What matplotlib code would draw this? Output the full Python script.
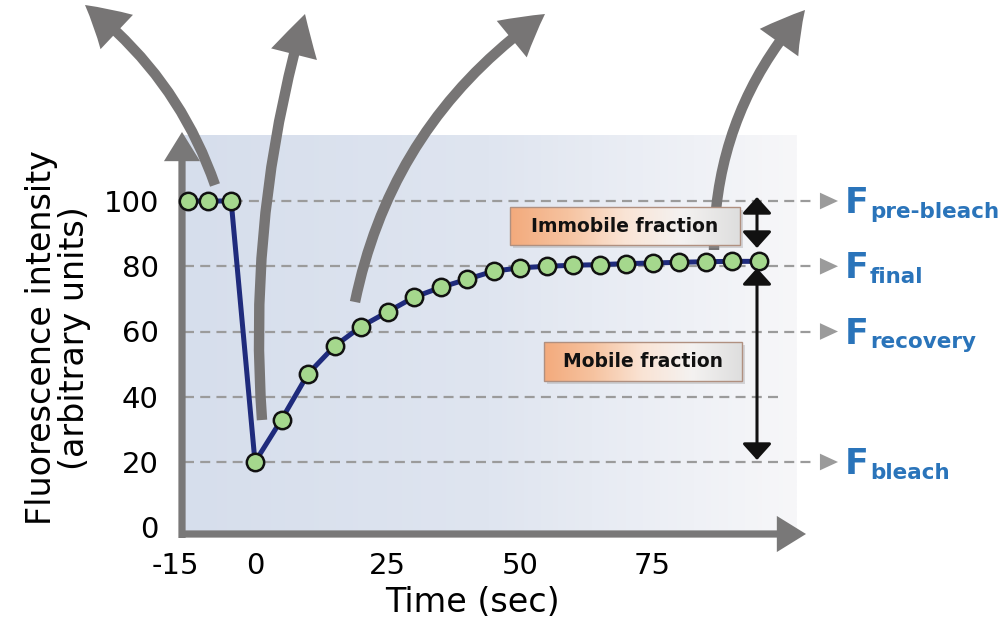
import numpy as np
import matplotlib
matplotlib.use('Agg')
import matplotlib.pyplot as plt
from matplotlib.patches import FancyArrowPatch, Rectangle
from matplotlib.colors import LinearSegmentedColormap

# Pre-bleach measurements (time in sec, intensity)
preTimes = [-12.7, -8.8, -4.5]
preValues = [100, 100, 100]

# Recovery after the bleach
recTimes = [0, 5, 10, 15, 20, 25, 30, 35, 40, 45, 50, 55, 60, 65, 70, 75, 80, 85, 90, 95]
recValues = [20, 33, 47, 55.5, 61.5, 66, 70.5, 73.5, 76, 78.5, 79.5, 80, 80.3,
             80.5, 80.8, 81, 81.2, 81.4, 81.5, 81.5]

xTicks = [-15, 0, 25, 50, 75]
xTickLabels = ['-15', '0', '25', '50', '75']
yTicks = [0, 20, 40, 60, 80, 100]

# Dashed reference levels and the names written at the right
gridLevels = [100, 80, 60, 40, 20]
refLevels = [100, 80, 60, 20]
refNames = ['pre-bleach', 'final', 'recovery', 'bleach']

W, H = 1006, 631
GRAY = '#797878'
BLUE = '#2a74ba'


# Pixel helpers for the plot area (5.3 px per sec, 3.2625 px per unit)
def tx(px):
    return (px - 255) / 5.3


def vy(py):
    return (527.25 - py) / 3.2625


def figPt(px, py):
    return (px / W, 1 - py / H)


fig = plt.figure(figsize=(W / 100, H / 100), dpi=100)
ax = fig.add_axes([175.5 / W, (H - 535) / H, 636 / W, 401 / H])
for s in ax.spines.values():
    s.set_visible(False)
ax.patch.set_visible(False)

# Background gradient behind the data
bgCmap = LinearSegmentedColormap.from_list('bg', ['#d6deec', '#dfe5f0', '#f7f7f9'])
ax.imshow(np.linspace(0, 1, 256)[None, :], cmap=bgCmap, aspect='auto',
          extent=[tx(182), tx(797), vy(535), vy(135)], zorder=0, interpolation='bilinear')

# Dashed lines with small arrowheads
for level in gridLevels:
    xEnd = tx(780) if level == 40 else tx(815)
    ax.plot([tx(184), xEnd], [level, level], color='#9b9b9b', lw=1.6,
            ls=(0, (4.5, 2.8)), zorder=1, clip_on=False)
    if level != 40:
        ax.annotate('', xy=(tx(838), level), xytext=(tx(815), level),
                    arrowprops=dict(arrowstyle='-|>,head_length=1.3,head_width=0.6',
                                    mutation_scale=10, color='#9b9b9b', lw=0,
                                    shrinkA=0, shrinkB=0),
                    annotation_clip=False, zorder=1)

# F labels
for level, name in zip(refLevels, refNames):
    ax.text(tx(845), level - 12 / 3.2625, 'F', color=BLUE, fontsize=25,
            fontweight='bold', ha='left', va='baseline')
    ax.text(tx(870), level - 17 / 3.2625, name, color=BLUE, fontsize=15.5,
            fontweight='bold', ha='left', va='baseline')


# Axis arrows
def straightArrow(p0, p1):
    a = FancyArrowPatch(figPt(*p0), figPt(*p1), transform=fig.transFigure,
                        arrowstyle='simple,head_length=21,head_width=26,tail_width=5.2',
                        mutation_scale=1, color=GRAY, lw=0, shrinkA=0, shrinkB=0,
                        zorder=2, clip_on=False)
    ax.add_artist(a)


straightArrow((182, 538), (182, 132))
straightArrow((179, 534), (806, 534))


# Large curved arrows leaving the plot
def curvedArrow(p0, p1, rad, z=3):
    a = FancyArrowPatch(figPt(*p0), figPt(*p1), transform=fig.transFigure,
                        connectionstyle='arc3,rad=%s' % rad,
                        arrowstyle='simple,head_length=30,head_width=34,tail_width=7.5',
                        mutation_scale=1, color='#777575', lw=0, shrinkA=0, shrinkB=0,
                        zorder=z, clip_on=False)
    ax.add_artist(a)


curvedArrow((215, 185), (85, 5), 0.15)
curvedArrow((262, 420), (305, 14), -0.09)
curvedArrow((355, 302), (545, 14), -0.2)
curvedArrow((714, 250), (805, 10), -0.19)

# Recovery curve and data points
allTimes = preTimes + recTimes
allValues = preValues + recValues
ax.plot(allTimes, allValues, color='#1f2b7c', lw=3.6, zorder=4,
        solid_joinstyle='round', clip_on=False)
ax.plot(allTimes, allValues, 'o', ms=12.5, mfc='#a5d88d', mec='#111111', mew=1.8,
        zorder=5, clip_on=False)

# Orange fraction boxes
boxCmap = LinearSegmentedColormap.from_list('box', ['#f3aa7c', '#f6c3a0', '#fae4d5', '#f4f2f1', '#dedede'])


def fractionBox(x0, x1, y0, y1, label):
    ax.add_patch(Rectangle((tx(x0 + 3), vy(y1 + 3)), tx(x1) - tx(x0), vy(y0) - vy(y1),
                           fc='#9a9a9a', ec='none', alpha=0.35, zorder=5.9))
    ax.imshow(np.linspace(0, 1, 256)[None, :], cmap=boxCmap, aspect='auto',
              extent=[tx(x0), tx(x1), vy(y1), vy(y0)], zorder=6, interpolation='bilinear')
    ax.add_patch(Rectangle((tx(x0), vy(y1)), tx(x1) - tx(x0), vy(y0) - vy(y1),
                           fill=False, ec='#b09080', lw=1, zorder=6.1))
    ax.text(tx((x0 + x1) / 2), vy((y0 + y1) / 2), label, fontsize=13.5,
            fontweight='bold', ha='center', va='center', color='#111111', zorder=7)


fractionBox(510, 740, 207, 245, 'Immobile fraction')
fractionBox(544, 742, 342, 381, 'Mobile fraction')

# Black double-headed arrows
for yTop, yBottom in [(197, 248), (268, 460)]:
    ax.annotate('', xy=(tx(757), vy(yTop)), xytext=(tx(757), vy(yBottom)),
                arrowprops=dict(arrowstyle='<|-|>,head_length=1.0,head_width=0.9',
                                mutation_scale=10, color='#111111', lw=2.2,
                                shrinkA=0, shrinkB=0),
                annotation_clip=False, zorder=8)

# Ticks and labels
ax.set_xticks(xTicks, labels=xTickLabels)
ax.set_yticks(yTicks)
ax.tick_params(length=0, labelsize=21, pad=12)
fig.text(58 / W, 1 - 338 / H, 'Fluorescence intensity\n(arbitrary units)', rotation=90,
         fontsize=24, ha='center', va='center', multialignment='center', linespacing=1.0)
fig.text(472 / W, 1 - 603 / H, 'Time (sec)', fontsize=24, ha='center', va='center')

ax.set_xlim(-15, 105)
ax.set_ylim(vy(535), vy(134))

plt.savefig('out.png', dpi=100)
